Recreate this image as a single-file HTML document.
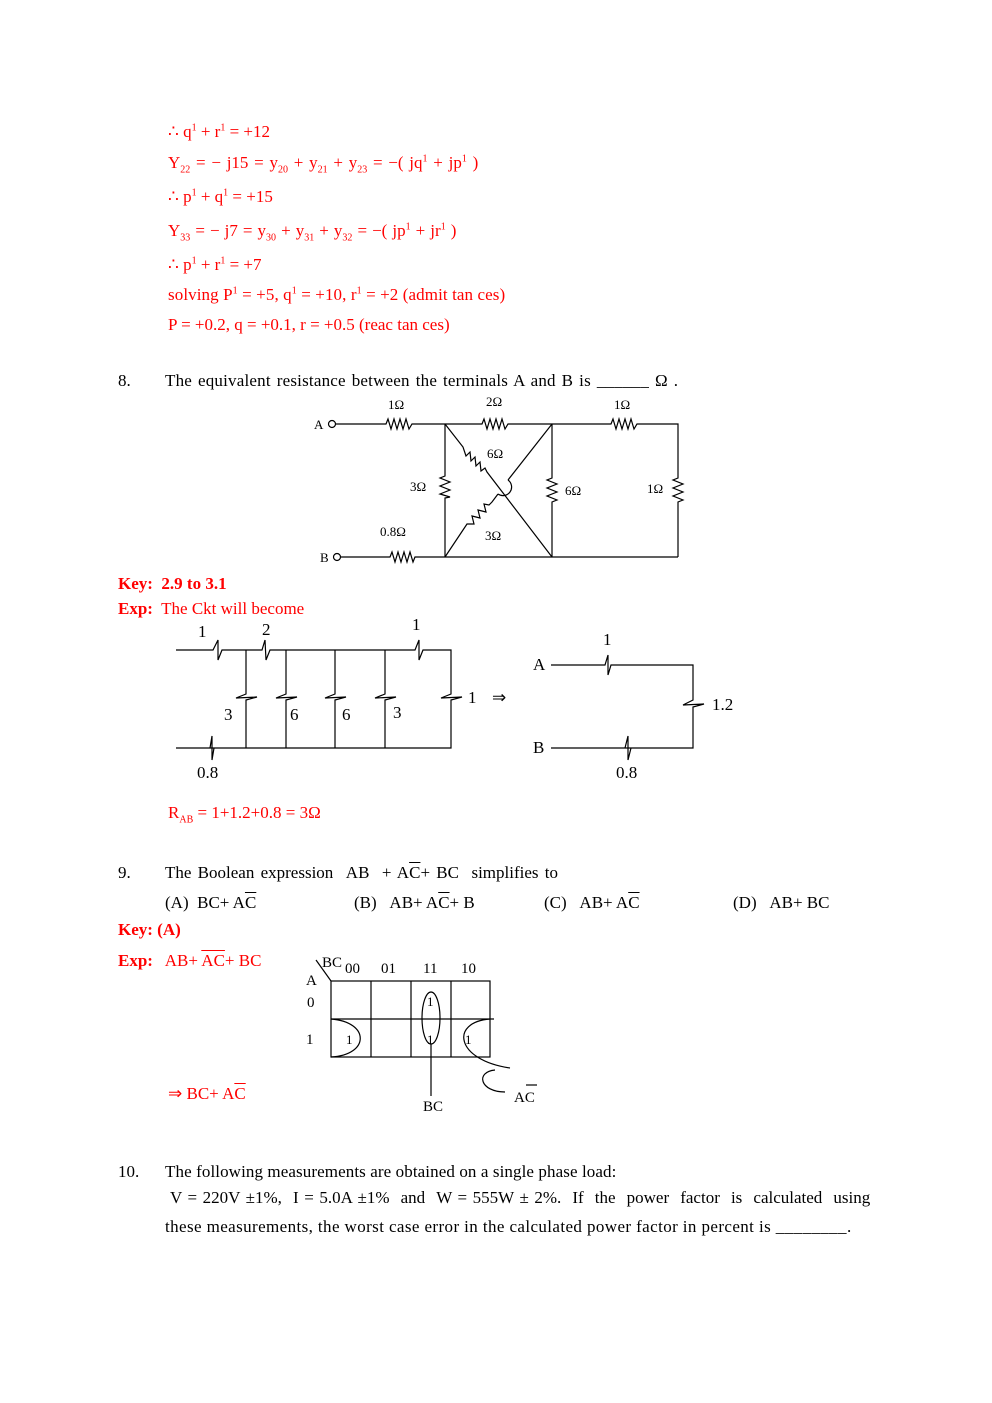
<!DOCTYPE html>
<html><head><meta charset="utf-8"><style>
body{margin:0;background:#fff;}
#p{position:relative;width:992px;height:1403px;font-family:"Liberation Serif",serif;font-size:17px;color:#000;}
.t{position:absolute;white-space:nowrap;}
.r{color:#f00;}
.b{font-weight:bold;}
sub,sup{font-size:10px;}
.ol{text-decoration:overline;}
svg{position:absolute;left:0;top:0;}
</style></head><body><div id="p">
<div class="t r" style="left:168px;top:122px">∴ q<sup>1</sup> + r<sup>1</sup> = +12</div>
<div class="t r" style="left:168px;top:153px;word-spacing:1.5px">Y<sub>22</sub> = − j15 = y<sub>20</sub> + y<sub>21</sub> + y<sub>23</sub> = −( jq<sup>1</sup> + jp<sup>1</sup> )</div>
<div class="t r" style="left:168px;top:187px">∴ p<sup>1</sup> + q<sup>1</sup> = +15</div>
<div class="t r" style="left:168px;top:221px;word-spacing:0.8px">Y<sub>33</sub> = − j7 = y<sub>30</sub> + y<sub>31</sub> + y<sub>32</sub> = −( jp<sup>1</sup> + jr<sup>1</sup> )</div>
<div class="t r" style="left:168px;top:255px">∴ p<sup>1</sup> + r<sup>1</sup> = +7</div>
<div class="t r" style="left:168px;top:285px;letter-spacing:0.1px">solving P<sup>1</sup> = +5, q<sup>1</sup> = +10, r<sup>1</sup> = +2 (admit tan ces)</div>
<div class="t r" style="left:168px;top:315px">P = +0.2, q = +0.1, r = +0.5 (reac tan ces)</div>
<div class="t" style="left:118px;top:371px">8.</div>
<div class="t" style="left:165px;top:371px;letter-spacing:0.2px;word-spacing:1.5px">The equivalent resistance between the terminals A and B is ______ Ω .</div>
<div class="t b r" style="left:118px;top:574px">Key:&nbsp; 2.9 to 3.1</div>
<div class="t r" style="left:118px;top:599px"><b>Exp:</b>&nbsp; The Ckt will become</div>
<div class="t r" style="left:168px;top:803px">R<sub>AB</sub> = 1+1.2+0.8 = 3Ω</div>
<div class="t" style="left:118px;top:863px">9.</div>
<div class="t" style="left:165px;top:863px;word-spacing:2px">The Boolean expression &nbsp;AB &nbsp;+ A<span class="ol">C</span>+ BC &nbsp;simplifies to</div>
<div class="t" style="left:165px;top:893px">(A) &nbsp;BC+ A<span class="ol">C</span></div>
<div class="t" style="left:354px;top:893px">(B) &nbsp;&nbsp;AB+ A<span class="ol">C</span>+ B</div>
<div class="t" style="left:544px;top:893px">(C) &nbsp;&nbsp;AB+ A<span class="ol">C</span></div>
<div class="t" style="left:733px;top:893px">(D) &nbsp;&nbsp;AB+ BC</div>
<div class="t b r" style="left:118px;top:920px">Key: (A)</div>
<div class="t r" style="left:118px;top:951px"><b>Exp:</b>&nbsp;&nbsp; AB+ <span class="ol">AC</span>+ BC</div>
<div class="t r" style="left:168px;top:1084px">⇒ BC+ A<span class="ol">C</span></div>
<div class="t" style="left:118px;top:1162px">10.</div>
<div class="t" style="left:165px;top:1162px;letter-spacing:0.1px">The following measurements are obtained on a single phase load:</div>
<div class="t" style="left:170px;top:1188px;word-spacing:1.3px">V = 220V ±1%, &nbsp;I = 5.0A ±1% &nbsp;and &nbsp;W = 555W ± 2%. &nbsp;If &nbsp;the &nbsp;power &nbsp;factor &nbsp;is &nbsp;calculated &nbsp;using</div>
<div class="t" style="left:165px;top:1217px;letter-spacing:0.4px">these measurements, the worst case error in the calculated power factor in percent is ________.</div>

<svg width="992" height="1403" font-family="Liberation Serif" font-size="13" fill="none" stroke="#000" stroke-width="1.2">
<circle cx="332" cy="424" r="3.5"/><circle cx="337" cy="557" r="3.5"/>
<polyline points="336,424 386,424 388,419 391,429 394,419 397,429 400,419 403,429 406,419 409,429 412,424 482,424 484,419 487,429 490,419 493,429 496,419 499,429 502,419 505,429 508,424 611,424 613,419 616,429 619,419 622,429 625,419 628,429 631,419 634,429 637,424 678,424 678,478 673,480 683,484 673,488 683,492 673,496 683,500 678,502 678,557"/>
<polyline points="341,557 390,557 392,552 395,562 398,552 401,562 404,552 407,562 410,552 413,562 415,557 678,557"/>
<polyline points="445,424 445,476 440,478 450,482 440,486 450,490 440,494 450,497 445,498 445,557"/>
<polyline points="552,424 552,478 547,480 557,484 547,488 557,492 547,496 557,500 552,502 552,557"/>
<polyline points="445,424 463,447 466,456 470,452 471,461 475,457 476,466 480,462 481,471 485,468 487,472 552,557"/>
<polyline points="552,424 508,480"/>
<path d="M508,480 A6,6 0 0 1 498,494"/>
<polyline points="498,494 492,502 489,505 484,504 486,512 478,510 480,518 472,516 474,524 467,524 445,557"/>
<g fill="#000" stroke="none">
<text x="388" y="409">1Ω</text><text x="486" y="406">2Ω</text><text x="614" y="409">1Ω</text>
<text x="314" y="429">A</text><text x="320" y="562">B</text>
<text x="487" y="458">6Ω</text><text x="410" y="491">3Ω</text><text x="565" y="495">6Ω</text><text x="647" y="493">1Ω</text>
<text x="380" y="536">0.8Ω</text><text x="485" y="540">3Ω</text>
</g>
<polyline points="176,650 213,650 218,640 218,660 222,650 262,650 265,640 266,660 270,650 415,650 419,640 419,660 423,650 451,650 451,694 441,698 462,697 451,700 451,748 176,748"/>
<polyline points="210,748 212,736 212,760 214,748"/>
<polyline points="246,650 246,694 236,698 257,697 246,700 246,748"/>
<polyline points="286,650 286,694 276,698 297,697 286,700 286,748"/>
<polyline points="335,650 335,694 325,698 346,697 335,700 335,748"/>
<polyline points="385,650 385,694 375,698 396,697 385,700 385,748"/>
<polyline points="551,665 605,665 608,655 608,675 611,665 693,665 693,700 683,705 704,704 693,707 693,748 551,748"/>
<polyline points="625,748 628,736 628,760 631,748"/>
<g fill="#000" stroke="none" font-size="17">
<text x="198" y="637">1</text><text x="262" y="635">2</text><text x="412" y="630">1</text>
<text x="224" y="720">3</text><text x="290" y="720">6</text><text x="342" y="720">6</text><text x="393" y="718">3</text>
<text x="468" y="703">1</text><text x="492" y="703">⇒</text>
<text x="197" y="778">0.8</text><text x="603" y="645">1</text>
<text x="533" y="670">A</text><text x="533" y="753">B</text><text x="712" y="710">1.2</text><text x="616" y="778">0.8</text>
</g>
<rect x="331" y="981" width="159" height="76"/>
<line x1="371" y1="981" x2="371" y2="1057"/><line x1="411" y1="981" x2="411" y2="1057"/><line x1="451" y1="981" x2="451" y2="1057"/>
<line x1="331" y1="1019" x2="494" y2="1019"/><line x1="316" y1="960" x2="331" y2="981"/>
<ellipse cx="431" cy="1018" rx="9" ry="26"/>
<line x1="431" y1="1044" x2="431" y2="1096"/>
<path d="M331,1019 C370,1022 370,1055 331,1057"/>
<path d="M490,1019 C450,1022 455,1060 510,1068"/>
<path d="M495,1070 C475,1072 480,1092 505,1092"/>
<g fill="#000" stroke="none" font-size="15">
<text x="322" y="967">BC</text><text x="345" y="973">00</text><text x="381" y="973">01</text><text x="423" y="973">11</text><text x="461" y="973">10</text>
<text x="306" y="985">A</text><text x="307" y="1007">0</text><text x="306" y="1044">1</text>
<text x="346" y="1044" font-size="13">1</text><text x="427" y="1006" font-size="13">1</text><text x="427" y="1044" font-size="13">1</text><text x="465" y="1044" font-size="13">1</text>
<text x="423" y="1111">BC</text><text x="514" y="1102">AC</text>
</g>
<line x1="526" y1="1085" x2="537" y2="1085"/>
</svg>
</div></body></html>
